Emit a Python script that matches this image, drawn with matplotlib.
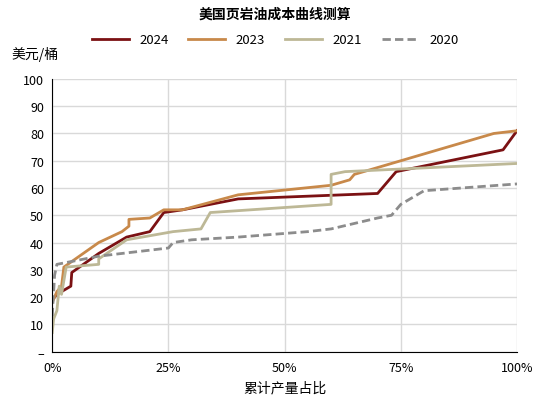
import matplotlib
matplotlib.use("Agg")
import matplotlib.pyplot as plt
from matplotlib.ticker import FuncFormatter

plt.rcParams['font.family'] = ['Noto Sans CJK SC', 'DejaVu Sans']

x24 = [0, 1, 4, 4.2, 10, 16, 21, 24, 28, 40, 70, 73, 74, 97, 100]
y24 = [19, 21, 24, 29, 36, 42, 44, 51, 52, 56, 58, 64, 66, 74, 81]
x23 = [0, 1, 2, 2.5, 10, 15, 16.5, 16.5, 21, 24, 28, 40, 60, 64, 65, 93, 95, 100]
y23 = [18, 22, 24, 31, 40, 44, 46, 48.5, 49, 52, 52, 57.5, 61, 63, 65, 79, 80, 81]
x21 = [0, 0.3, 1, 1.5, 2, 3, 10, 10, 16, 26, 32, 34, 60, 60, 63, 100]
y21 = [7, 12, 15, 24, 21, 31, 32, 34, 41, 44, 45, 51, 54, 65, 66, 69]
x20 = [0, 0.5, 1, 10, 25, 26, 30, 40, 55, 60, 70, 73, 75, 80, 100]
y20 = [13, 28, 32, 35, 38, 40, 41, 42, 44, 45, 49, 50, 54, 59, 61.5]

fig = plt.figure(figsize=(5.5, 4.1), dpi=100)
ax = fig.add_axes([0.095, 0.14, 0.845, 0.665])
ax.plot(x24, y24, color='#7B1113', lw=2, label='2024')
ax.plot(x23, y23, color='#C8894A', lw=2, label='2023')
ax.plot(x21, y21, color='#BDB896', lw=2, label='2021')
ax.plot(x20, y20, color='#8C8C8C', lw=2, ls=(0, (3, 1.5)), label='2020')
ax.set_xlim(0, 100)
ax.set_ylim(0, 100)
ax.set_xticks([0, 25, 50, 75, 100])
ax.xaxis.set_major_formatter(FuncFormatter(lambda v, p: f'{int(v)}%'))
ax.set_yticks(range(0, 101, 10))
ax.yaxis.set_major_formatter(FuncFormatter(lambda v, p: '–' if v == 0 else f'{int(v)}'))
ax.grid(True, color='#D9D9D9', lw=1)
ax.set_axisbelow(True)
for s in ['top', 'right']:
    ax.spines[s].set_visible(False)
ax.tick_params(axis='y', length=0, labelsize=9, pad=6)
ax.tick_params(axis='x', length=0, labelsize=9, pad=7)
ax.set_xlabel('累计产量占比', fontsize=10)
fig.text(0.5, 0.955, '美国页岩油成本曲线测算', ha='center', fontsize=10, fontweight='bold')
fig.text(0.02, 0.855, '美元/桶', fontsize=10)
fig.legend(loc='center', bbox_to_anchor=(0.5, 0.9), ncol=4, frameon=False, fontsize=9.5,
           handlelength=2.8, columnspacing=1.5)
fig.savefig('out.png', dpi=100)
